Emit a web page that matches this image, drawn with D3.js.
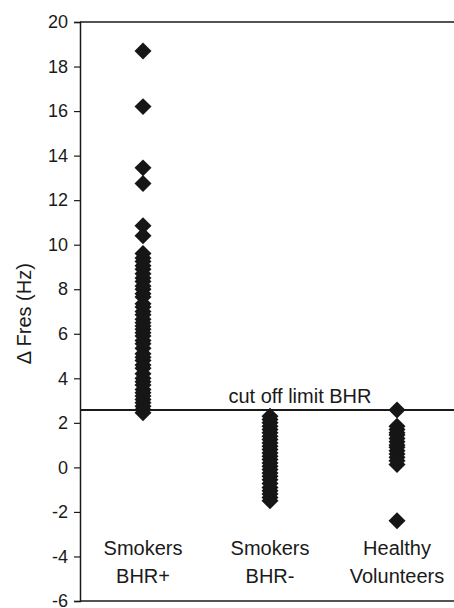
<!DOCTYPE html>
<html>
<head>
<meta charset="utf-8">
<script src="https://cdn.jsdelivr.net/npm/d3@7"></script>
<style>
  body { margin: 0; background: #fff; }
  text { font-family: "Liberation Sans", Arial, sans-serif; fill: #1a1a1a; }
</style>
</head>
<body>
<div id="chart"></div>
<script>
// data
var groups = ["Smokers BHR+", "Smokers BHR-", "Healthy Volunteers"];
var groupLines = [["Smokers", "BHR+"], ["Smokers", "BHR-"], ["Healthy", "Volunteers"]];

var smokersPos = [18.7, 16.2, 13.45, 12.75, 10.85, 10.4,
  9.6, 9.4, 9.25, 9.05, 8.9, 8.7, 8.5, 8.35, 8.15, 8.0, 7.8, 7.65, 7.35, 7.2,
  7.0, 6.85, 6.65, 6.5, 6.35, 6.2, 6.05, 5.9, 5.7, 5.55, 5.35, 5.1, 4.95, 4.8, 4.6,
  4.45, 4.2, 4.0, 3.85, 3.7, 3.5, 3.35, 3.2, 3.05, 2.9, 2.75, 2.6, 2.45];
var smokersNeg = [2.3, 2.15, 2.0, 1.85, 1.7, 1.55, 1.4, 1.25, 1.1, 0.95, 0.8,
  0.65, 0.5, 0.35, 0.2, 0.05, -0.1, -0.25, -0.4, -0.55, -0.72, -0.9, -1.05, -1.2, -1.35, -1.5];
var healthy = [2.58, 1.85, 1.7, 1.55, 1.45, 1.3, 1.15, 1.0, 0.9, 0.75, 0.6,
  0.45, 0.3, 0.13, -2.4];

var cutoff = 2.58;
var yTicks = [-6, -4, -2, 0, 2, 4, 6, 8, 10, 12, 14, 16, 18, 20];

var svgWidth = 454;
var svgHeight = 608;
var margin = { top: 22, right: 0, bottom: 7, left: 80 };
var width = svgWidth - margin.left - margin.right;
var height = svgHeight - margin.top - margin.bottom;

var svg = d3.select("#chart")
  .append("svg")
  .attr("width", svgWidth)
  .attr("height", svgHeight);

var chartGroup = svg.append("g")
  .attr("transform", `translate(${margin.left}, ${margin.top})`);

var yScale = d3.scaleLinear()
  .domain([-6, 20])
  .range([height, 0]);

var xScale = d3.scalePoint()
  .domain(groups)
  .range([63, 317]);

// frame lines top and bottom
chartGroup.append("line")
  .attr("x1", 0).attr("x2", width)
  .attr("y1", 0).attr("y2", 0)
  .attr("stroke", "#1a1a1a").attr("stroke-width", 1.5);
chartGroup.append("line")
  .attr("x1", 0).attr("x2", width)
  .attr("y1", height).attr("y2", height)
  .attr("stroke", "#1a1a1a").attr("stroke-width", 1.5);

// y axis, plain hyphen for negatives like the original
var leftAxis = d3.axisLeft(yScale)
  .tickValues(yTicks)
  .tickFormat(d => String(d))
  .tickSize(6)
  .tickPadding(6);

var yAxis = chartGroup.append("g").call(leftAxis);
yAxis.select(".domain").attr("stroke", "#1a1a1a").attr("stroke-width", 1.5);
yAxis.selectAll(".tick line").attr("stroke", "#1a1a1a").attr("stroke-width", 1.2);
yAxis.selectAll(".tick text")
  .attr("font-size", "18px")
  .attr("font-family", "'Liberation Sans', Arial, sans-serif")
  .attr("fill", "#1a1a1a");

// cut off line
chartGroup.append("line")
  .attr("x1", 0).attr("x2", width)
  .attr("y1", yScale(cutoff)).attr("y2", yScale(cutoff))
  .attr("stroke", "#1a1a1a").attr("stroke-width", 2);

chartGroup.append("text")
  .attr("x", 220)
  .attr("y", yScale(cutoff) - 7)
  .attr("text-anchor", "middle")
  .attr("font-size", "20px")
  .text("cut off limit BHR");

// points
var series = [smokersPos, smokersNeg, healthy];
var points = [];
series.forEach(function(vals, i) {
  vals.forEach(function(v) { points.push({ group: groups[i], value: v }); });
});

var diamond = d3.symbol().type(d3.symbolSquare).size(144);

chartGroup.selectAll(".pt")
  .data(points)
  .enter()
  .append("path")
  .attr("class", "pt")
  .attr("d", diamond)
  .attr("transform", d => `translate(${xScale(d.group)}, ${yScale(d.value)}) rotate(45)`)
  .attr("fill", "#161616");

// category labels
var labels = chartGroup.selectAll(".cat")
  .data(groups)
  .enter()
  .append("text")
  .attr("class", "cat")
  .attr("x", d => xScale(d))
  .attr("y", height - 46)
  .attr("text-anchor", "middle")
  .attr("font-size", "20px");

labels.each(function(d, i) {
  var t = d3.select(this);
  groupLines[i].forEach(function(line, j) {
    t.append("tspan")
      .attr("x", xScale(d))
      .attr("dy", j === 0 ? 0 : 28)
      .text(line);
  });
});

// y axis label
chartGroup.append("text")
  .attr("transform", "rotate(-90)")
  .attr("x", 0 - yScale(6.9))
  .attr("y", 0 - margin.left + 31)
  .attr("text-anchor", "middle")
  .attr("font-size", "20px")
  .text("\u0394 Fres (Hz)");
</script>
</body>
</html>
